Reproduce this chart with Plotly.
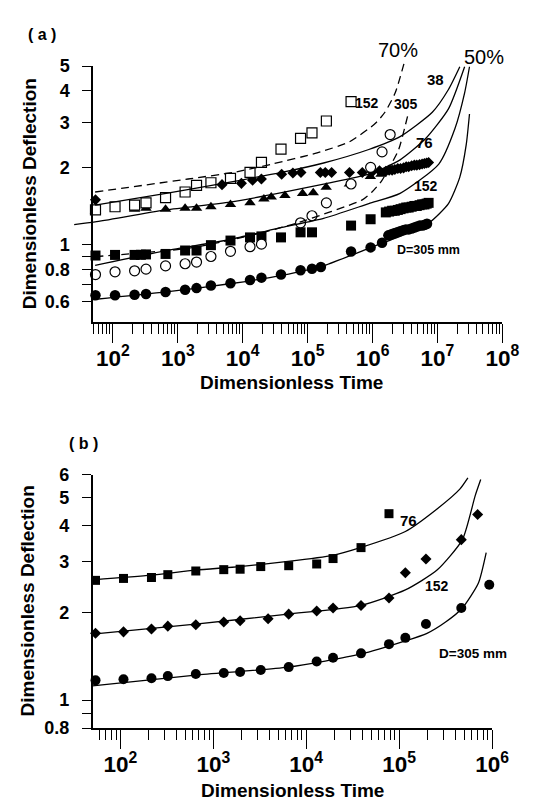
import math
import plotly.graph_objects as go

# ---------------- data: panel (a) ----------------
t_sq_open = [54, 108, 216, 324, 648, 1296, 1944, 3240, 6480, 12960, 19440, 38880, 77760, 116640, 194400, 466560]
y_sq_open = [1.37, 1.41, 1.43, 1.46, 1.53, 1.61, 1.71, 1.75, 1.82, 1.92, 2.10, 2.37, 2.61, 2.74, 3.05, 3.63]

t_ci_open = [54, 108, 216, 324, 648, 1296, 1944, 3240, 6480, 12960, 19440, 77760, 116640, 194400, 466560, 933120, 1399680, 1866240]
y_ci_open = [0.766, 0.785, 0.792, 0.804, 0.828, 0.844, 0.857, 0.901, 0.944, 0.984, 1.007, 1.22, 1.30, 1.46, 1.73, 2.01, 2.31, 2.70]

t_dia = [54, 4800, 9550, 14200, 19400, 39800, 59300, 79000, 157000, 187000, 234000, 441000, 695000, 985000, 1280000,
         1600000, 1800000, 2000000, 2200000, 2450000, 2700000, 3000000, 3300000, 3600000, 4000000, 4400000, 4800000,
         5300000, 5800000, 6300000, 6800000, 7300000]
y_dia = [1.50, 1.72, 1.74, 1.79, 1.81, 1.89, 1.91, 1.92, 1.92, 1.92, 1.92, 1.92, 1.92, 1.93, 1.95,
         1.94, 1.96, 1.96, 1.97, 1.99, 1.99, 2.00, 2.02, 2.02, 2.04, 2.05, 2.05, 2.06, 2.07, 2.08, 2.09, 2.10]

t_tri = [54, 216, 324, 648, 1296, 1944, 3240, 6480, 12960, 21200, 27500, 44700, 83600, 122000, 193000, 440000, 925000, 1350000]
y_tri = [1.35, 1.38, 1.39, 1.38, 1.39, 1.39, 1.41, 1.44, 1.46, 1.51, 1.54, 1.56, 1.59, 1.60, 1.68, 1.73, 1.85, 1.89]

t_sq_fill = [54, 108, 216, 270, 324, 648, 1296, 1944, 3240, 6480, 12960, 19440, 38880, 77760, 116640, 466560, 933120,
             1600000, 1800000, 2000000, 2200000, 2450000, 2700000, 3000000, 3300000, 3600000, 4000000, 4400000,
             4800000, 5300000, 5800000, 6300000, 6800000, 7300000]
y_sq_fill = [0.909, 0.914, 0.914, 0.915, 0.918, 0.922, 0.951, 0.951, 0.998, 1.04, 1.07, 1.08, 1.07, 1.12, 1.12, 1.19, 1.26,
             1.34, 1.35, 1.36, 1.36, 1.37, 1.38, 1.39, 1.40, 1.40, 1.41, 1.42, 1.42, 1.43, 1.44, 1.44, 1.45, 1.46]

t_ci_fill = [54, 108, 216, 324, 648, 1296, 1944, 3240, 6480, 12960, 19440, 38880, 77760, 116640, 160000, 466560, 933120, 1399680,
             1750000, 1950000, 2150000, 2400000, 2650000, 2950000, 3250000, 3600000, 4000000, 4400000, 4850000,
             5350000, 5900000, 6400000, 6900000]
y_ci_fill = [0.636, 0.636, 0.639, 0.643, 0.655, 0.668, 0.678, 0.694, 0.708, 0.729, 0.745, 0.766, 0.796, 0.807, 0.82, 0.942, 0.978, 1.02,
             1.09, 1.10, 1.11, 1.12, 1.13, 1.14, 1.15, 1.15, 1.16, 1.17, 1.18, 1.19, 1.19, 1.20, 1.21]

# fitted curves, panel (a): log10(time), deflection
c38_lt = [1.727, 2.82, 3.804, 4.60, 5.246, 5.942, 6.424, 6.92, 7.169, 7.344]
c38_y = [1.43, 1.59, 1.76, 1.92, 2.09, 2.36, 2.65, 3.30, 4.05, 4.97]
c76_lt = [1.404, 1.727, 2.82, 3.804, 4.60, 5.246, 5.942, 6.424, 6.822, 7.169, 7.418]
c76_y = [1.20, 1.23, 1.37, 1.47, 1.60, 1.73, 1.89, 2.15, 2.61, 3.40, 4.97]
c152_lt = [1.727, 2.82, 3.804, 4.60, 5.246, 5.942, 6.424, 7.02, 7.269, 7.418, 7.493]
c152_y = [0.832, 0.950, 1.05, 1.17, 1.27, 1.45, 1.59, 2.07, 2.85, 3.93, 4.97]
c305_lt = [1.70, 2.82, 3.80, 4.60, 5.25, 5.94, 6.42, 6.87, 7.169, 7.344, 7.442, 7.493]
c305_y = [0.612, 0.655, 0.705, 0.76, 0.83, 0.97, 1.08, 1.22, 1.45, 1.84, 2.46, 3.25]
d152_lt = [1.727, 3.159, 3.855, 4.451, 5.146, 5.644, 6.04, 6.19, 6.349, 6.483]
d152_y = [1.61, 1.81, 1.92, 2.07, 2.29, 2.53, 2.98, 3.30, 3.93, 5.10]
d305_lt = [1.727, 3.159, 3.855, 4.377, 4.65, 4.848, 5.842, 5.991, 6.14, 6.27, 6.40, 6.548]
d305_y = [0.90, 0.97, 1.05, 1.13, 1.18, 1.22, 1.50, 1.61, 1.78, 2.03, 2.35, 3.25]

# ---------------- data: panel (b) ----------------
tb_sq = [54, 108, 216, 324, 648, 1296, 1944, 3240, 6480, 12960, 19440, 38880, 77760]
yb_sq = [2.59, 2.63, 2.65, 2.71, 2.79, 2.82, 2.83, 2.89, 2.91, 2.95, 3.08, 3.36, 4.40]
tb_dia = [54, 108, 216, 324, 648, 1296, 1944, 3888, 6480, 12960, 19440, 38880, 77760, 116640, 194400, 466560, 699840]
yb_dia = [1.70, 1.72, 1.76, 1.80, 1.82, 1.86, 1.88, 1.91, 1.98, 2.03, 2.08, 2.12, 2.25, 2.75, 3.07, 3.58, 4.37]
tb_ci = [54, 108, 216, 324, 648, 1296, 1944, 3240, 6480, 12960, 19440, 38880, 77760, 116640, 194400, 466560, 933120]
yb_ci = [1.17, 1.18, 1.19, 1.21, 1.23, 1.24, 1.25, 1.27, 1.30, 1.36, 1.40, 1.45, 1.56, 1.64, 1.83, 2.08, 2.50]

b76_lt = [1.70, 2.330, 2.808, 3.285, 3.804, 4.282, 4.582, 5.067, 5.408, 5.653, 5.74]
b76_y = [2.60, 2.70, 2.81, 2.89, 3.01, 3.16, 3.36, 3.82, 4.57, 5.35, 5.85]
b152_lt = [1.70, 2.808, 3.804, 4.582, 5.067, 5.408, 5.681, 5.818, 5.878]
b152_y = [1.69, 1.83, 1.98, 2.12, 2.40, 2.81, 3.58, 5.07, 5.77]
b305_lt = [1.70, 2.808, 3.804, 4.582, 5.067, 5.30, 5.50, 5.681, 5.852, 5.937]
b305_y = [1.12, 1.22, 1.30, 1.44, 1.60, 1.70, 1.86, 2.08, 2.53, 3.23]

# tick labels
ya_ticks = [0.6, 0.8, 1, 2, 3, 4, 5]
ya_minor = [0.7, 0.9]
yb_ticks = [0.8, 1, 2, 3, 4, 5, 6]
yb_minor = [0.9]

# ---------------- layout geometry (pixels) ----------------
W, H = 533, 804
FONT = "Arial, 'Liberation Sans', sans-serif"
def fx(p):
    return p / W
def fy(p):
    return 1 - p / H

A_L, A_R, A_T, A_B = 88.0, 510.7, 49.3, 311.7
A_X0, A_X1 = 1.697, 8.0
A_Y0, A_Y1 = math.log10(0.5), math.log10(5)
ax_pd = (A_R - A_L) / (A_X1 - A_X0)
ay_pd = (A_B - A_T) / (A_Y1 - A_Y0)
AUX_L, AUX_T = 60.0, 20.0

B_L, B_R, B_T, B_B = 87.3, 500.0, 468.3, 728.3
B_X0, B_X1 = 1.70, 6.0
B_Y0, B_Y1 = math.log10(0.8), math.log10(6)

fig = go.Figure()

def pw(lt):
    return [10 ** v for v in lt]

line_solid = dict(color="black", width=1.3, shape="spline", smoothing=0.6)
line_dash = dict(color="black", width=1.3, shape="spline", smoothing=0.6, dash="8px,5px")

# panel (a) curves on an auxiliary axis pair with a larger clip area
for lt, yy, ln in [(c38_lt, c38_y, line_solid), (c76_lt, c76_y, line_solid), (c152_lt, c152_y, line_solid),
                   (c305_lt, c305_y, line_solid), (d152_lt, d152_y, line_dash), (d305_lt, d305_y, line_dash)]:
    fig.add_trace(go.Scatter(x=pw(lt), y=yy, mode="lines", line=ln, xaxis="x3", yaxis="y3",
                             showlegend=False, hoverinfo="skip"))

def mk(sym, size, fill="black", lw=0):
    return dict(symbol=sym, size=size, color=fill, line=dict(color="black", width=lw))

fig.add_trace(go.Scatter(x=t_dia, y=y_dia, mode="markers", marker=mk("diamond", 8.5), xaxis="x", yaxis="y", cliponaxis=False))
fig.add_trace(go.Scatter(x=t_tri, y=y_tri, mode="markers", marker=mk("triangle-up", 10), xaxis="x", yaxis="y", cliponaxis=False))
fig.add_trace(go.Scatter(x=t_sq_fill, y=y_sq_fill, mode="markers", marker=mk("square", 10), xaxis="x", yaxis="y", cliponaxis=False))
fig.add_trace(go.Scatter(x=t_ci_fill, y=y_ci_fill, mode="markers", marker=mk("circle", 10.5), xaxis="x", yaxis="y", cliponaxis=False))
fig.add_trace(go.Scatter(x=t_sq_open, y=y_sq_open, mode="markers", marker=mk("square", 10, "white", 1.2), xaxis="x", yaxis="y", cliponaxis=False))
fig.add_trace(go.Scatter(x=t_ci_open, y=y_ci_open, mode="markers", marker=mk("circle", 10, "white", 1.2), xaxis="x", yaxis="y", cliponaxis=False))

# panel (b)
for lt, yy in [(b76_lt, b76_y), (b152_lt, b152_y), (b305_lt, b305_y)]:
    fig.add_trace(go.Scatter(x=pw(lt), y=yy, mode="lines", line=line_solid, xaxis="x2", yaxis="y2",
                             showlegend=False, hoverinfo="skip"))
fig.add_trace(go.Scatter(x=tb_sq, y=yb_sq, mode="markers", marker=mk("square", 9), xaxis="x2", yaxis="y2", cliponaxis=False))
fig.add_trace(go.Scatter(x=tb_dia, y=yb_dia, mode="markers", marker=mk("diamond", 8.5), xaxis="x2", yaxis="y2", cliponaxis=False))
fig.add_trace(go.Scatter(x=tb_ci, y=yb_ci, mode="markers", marker=mk("circle", 10), xaxis="x2", yaxis="y2", cliponaxis=False))

tickfont = dict(family=FONT, size=18, color="black", weight="bold")
xcommon = dict(type="log", showgrid=False, zeroline=False, showline=True, linecolor="black", linewidth=1.5,
               ticks="outside", ticklen=19, tickwidth=1.2, tickcolor="black", tickmode="linear", tick0=0, dtick=1,
               exponentformat="power", tickfont=tickfont, ticklabelstandoff=-3,
               minor=dict(ticks="outside", ticklen=10, tickwidth=1, tickcolor="black", dtick="D1", showgrid=False))
ycommon = dict(type="log", showgrid=False, zeroline=False, showline=True, linecolor="black", linewidth=1.5,
               ticks="outside", ticklen=9, tickwidth=1.2, tickcolor="black", tickfont=tickfont, tickmode="array",
               ticklabelstandoff=9)

aux_x0 = A_X0 - (A_L - AUX_L) / ax_pd
aux_y1 = A_Y1 + (A_T - AUX_T) / ay_pd

fig.update_layout(
    width=W, height=H, margin=dict(l=0, r=0, t=0, b=0, pad=0),
    paper_bgcolor="white", plot_bgcolor="rgba(0,0,0,0)", showlegend=False,
    font=dict(family=FONT, color="black"),
    xaxis=dict(xcommon, domain=[fx(A_L), fx(A_R)], range=[A_X0, A_X1], anchor="y"),
    yaxis=dict(ycommon, domain=[fy(A_B), fy(A_T)], range=[A_Y0, A_Y1], anchor="x",
               tickvals=ya_ticks, ticktext=[f"{v:g}" for v in ya_ticks],
               minor=dict(tickmode="array", tickvals=ya_minor, ticks="outside", ticklen=9, tickwidth=1.2,
                          tickcolor="black", showgrid=False)),
    xaxis2=dict(xcommon, domain=[fx(B_L), fx(B_R)], range=[B_X0, B_X1], anchor="y2"),
    yaxis2=dict(ycommon, domain=[fy(B_B), fy(B_T)], range=[B_Y0, B_Y1], anchor="x2",
                tickvals=yb_ticks, ticktext=[f"{v:g}" for v in yb_ticks],
                minor=dict(tickmode="array", tickvals=yb_minor, ticks="outside", ticklen=9, tickwidth=1.2,
                           tickcolor="black", showgrid=False)),
    xaxis3=dict(type="log", domain=[fx(AUX_L), fx(A_R)], range=[aux_x0, A_X1], visible=False, anchor="y3"),
    yaxis3=dict(type="log", domain=[fy(A_B), fy(AUX_T)], range=[A_Y0, aux_y1], visible=False, anchor="x3"),
)

def note(text, px, py, size, bold=True, angle=0):
    t = f"<b>{text}</b>" if bold else text
    fig.add_annotation(text=t, x=fx(px), y=fy(py), xref="paper", yref="paper", showarrow=False,
                       xanchor="center", yanchor="middle", textangle=angle,
                       font=dict(family=FONT, size=size, color="black"))

note("( a )", 35, 17, 16)
note("70%", 403, 33, 20, bold=False)
note("50%", 492, 40, 20, bold=False)
note("38", 441.5, 63.5, 15)
note("152", 371, 87.5, 14)
note("305", 411, 88.3, 14)
note("76", 430, 128, 15)
note("152", 432, 172, 14)
note("D=305 mm", 434, 237.5, 12.5)
note("Dimensionless Deflection", 22, 180.5, 19, angle=-90)
note("Dimensionless Time", 293, 374, 19)

note("( b )", 78, 436, 16)
note("76", 413.5, 515, 15)
note("152", 443.5, 582, 14)
note("D=305 mm", 480, 652, 13.5)
note("Dimensionless Deflection", 20, 598, 19, angle=-90)
note("Dimensionless Time", 293.5, 792, 19)

fig.write_html("out.html")
